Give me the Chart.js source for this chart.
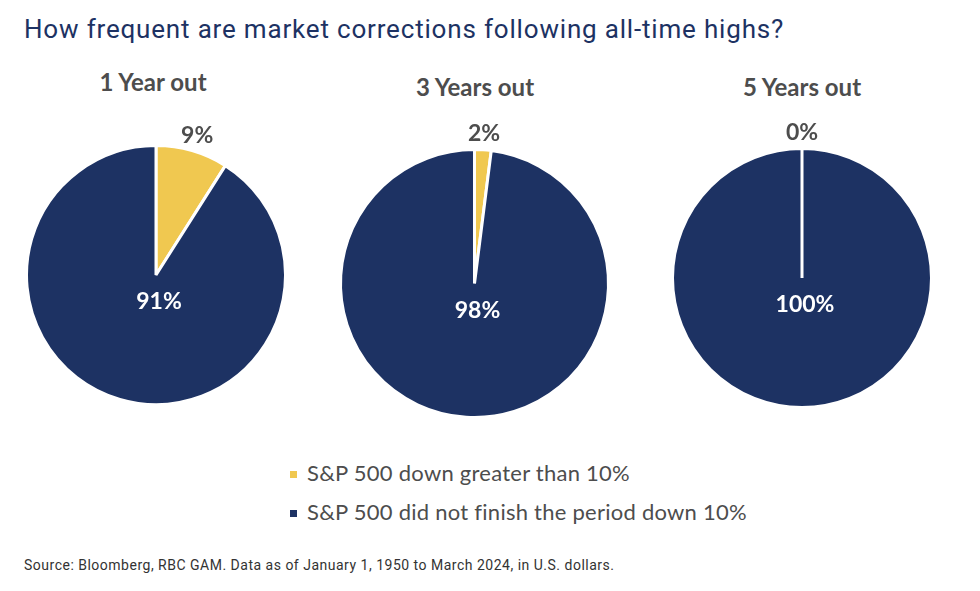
<!DOCTYPE html>
<html>
<head>
<meta charset="utf-8">
<script src="https://cdn.jsdelivr.net/npm/chart.js@4"></script>
<style>
  body { margin: 0; background: #fff; width: 980px; height: 591px; position: relative; overflow: hidden; }
  #title { position: absolute; left: 24px; top: 14px; font-family: Roboto, sans-serif; font-size: 26px; letter-spacing: 0.82px; color: #1d3263; white-space: nowrap; }
  .ptitle { position: absolute; width: 300px; text-align: center; font-family: Lato, sans-serif; font-weight: bold; font-size: 24px; color: #4d4d4d; }
  canvas { position: absolute; }
  #legend { position: absolute; left: 290px; top: 459px; font-family: Lato, sans-serif; font-size: 22px; letter-spacing: 0.25px; color: #4d4d4d; }
  #legend div { height: 39px; white-space: nowrap; }
  #legend span.sq { display: inline-block; width: 7px; height: 7px; margin-right: 10px; vertical-align: middle; position: relative; top: -1px; }
  #source { position: absolute; left: 24px; top: 557px; font-family: Roboto, sans-serif; font-size: 14px; letter-spacing: 0.5px; color: #333; white-space: nowrap; }
</style>
</head>
<body>
<div id="title">How frequent are market corrections following all-time highs?</div>
<div class="ptitle" style="left:3px; top:67px">1 Year out</div>
<div class="ptitle" style="left:325px; top:72px">3 Years out</div>
<div class="ptitle" style="left:652px; top:72px">5 Years out</div>
<canvas id="pie1" width="272" height="312" style="left:20px; top:99px"></canvas>
<canvas id="pie2" width="281" height="321" style="left:334px; top:103px"></canvas>
<canvas id="pie3" width="272" height="312" style="left:666px; top:102px"></canvas>
<div id="legend"></div>
<div id="source">Source: Bloomberg, RBC GAM. Data as of January 1, 1950 to March 2024, in U.S. dollars.</div>
<script>
// data
const seriesLabels = ['S&P 500 down greater than 10%', 'S&P 500 did not finish the period down 10%']
const colors = ['#f0c850', '#1d3263']
const periods = ['1 Year out', '3 Years out', '5 Years out']
const downOver10 = [9, 2, 0]
const notDown10 = [91, 98, 100]

// percent labels: first slice outside on top, second one in the middle
const pctLabels = {
    id: 'pctLabels',
    afterDatasetsDraw(chart) {
        const ctx = chart.ctx
        const meta = chart.getDatasetMeta(0)
        const values = chart.data.datasets[0].data
        ctx.save()
        ctx.textAlign = 'center'
        ctx.textBaseline = 'middle'
        meta.data.forEach((arc, i) => {
            const p = arc.getProps(['x', 'y', 'startAngle', 'endAngle', 'outerRadius'], true)
            if (i == 0) {
                const a = (p.startAngle + p.endAngle) / 2
                const r = p.outerRadius + 18
                ctx.font = 'bold 23px Lato, sans-serif'
                ctx.fillStyle = '#4d4d4d'
                ctx.fillText(values[i] + '%', p.x + Math.cos(a) * r, p.y + Math.sin(a) * r + 2)
            } else {
                ctx.font = 'bold 23px Lato, sans-serif'
                ctx.fillStyle = '#ffffff'
                ctx.fillText(values[i] + '%', p.x + 3, p.y + 27)
            }
        })
        ctx.restore()
    }
}

function makePie(id, i) {
    let c = document.getElementById(id).getContext('2d')
    new Chart(c, {
        type: 'pie',
        data: {
            labels: seriesLabels,
            datasets: [{
                label: periods[i],
                data: [downOver10[i], notDown10[i]],
                backgroundColor: colors,
                borderColor: '#ffffff',
                borderWidth: 3
            }]
        },
        options: {
            responsive: false,
            animation: false,
            layout: { padding: { top: 45, left: 5, right: 5, bottom: 5 } },
            plugins: { legend: { display: false }, tooltip: { enabled: false } }
        },
        plugins: [pctLabels]
    })
}

makePie('pie1', 0)
makePie('pie2', 1)
makePie('pie3', 2)

// legend
const legend = document.getElementById('legend')
seriesLabels.forEach((l, i) => {
    let row = document.createElement('DIV')
    let sq = document.createElement('SPAN')
    sq.className = 'sq'
    sq.style.backgroundColor = colors[i]
    row.appendChild(sq)
    row.appendChild(document.createTextNode(l))
    legend.appendChild(row)
})
</script>
</body>
</html>
